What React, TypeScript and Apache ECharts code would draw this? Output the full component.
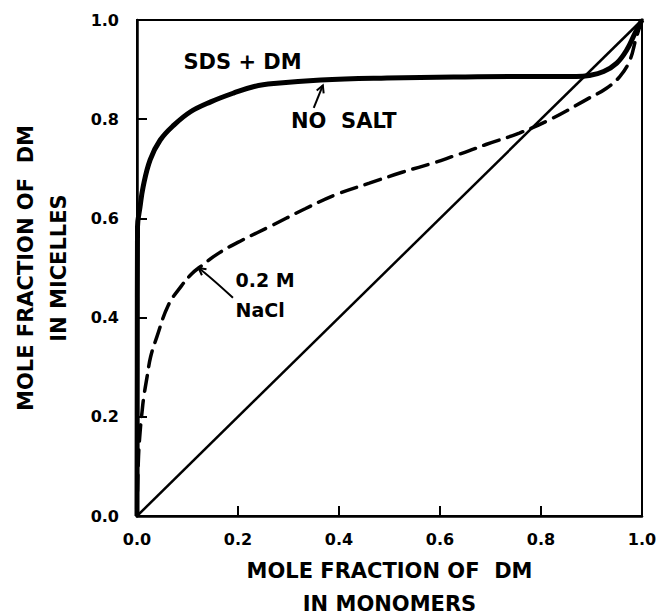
import React, { useEffect, useRef } from 'react';
import * as echarts from 'echarts';

// Mole fraction of DM in monomers (x) vs in micelles (y)
const noSalt: [number, number][] = [
  [0, 0], [0.0005, 0.3], [0.001, 0.583], [0.006, 0.623], [0.012, 0.663],
  [0.026, 0.718], [0.046, 0.758], [0.073, 0.788], [0.106, 0.815], [0.146, 0.835],
  [0.192, 0.853], [0.232, 0.866], [0.271, 0.872], [0.364, 0.879], [0.495, 0.883],
  [0.627, 0.885], [0.75, 0.886], [0.87, 0.886], [0.895, 0.888], [0.924, 0.896],
  [0.95, 0.913], [0.97, 0.94], [0.986, 0.973], [1.0, 1.0],
];

const naCl: [number, number][] = [
  [0, 0], [0.003, 0.12], [0.007, 0.18], [0.01, 0.21], [0.013, 0.237], [0.02, 0.281],
  [0.027, 0.321], [0.039, 0.36], [0.062, 0.425], [0.088, 0.464], [0.108, 0.488],
  [0.122, 0.5], [0.162, 0.53], [0.208, 0.556], [0.268, 0.586], [0.334, 0.62],
  [0.394, 0.648], [0.46, 0.671], [0.525, 0.693], [0.591, 0.713], [0.625, 0.725],
  [0.657, 0.736], [0.691, 0.749], [0.757, 0.772], [0.823, 0.802], [0.889, 0.839],
  [0.929, 0.862], [0.956, 0.886], [0.976, 0.919], [0.988, 0.962], [1.0, 1.0],
];

const diagonal: [number, number][] = [[0, 0], [1, 1]];

const tickLabels = ['0.0', '0.2', '0.4', '0.6', '0.8', '1.0'];

const FONT = 'DejaVu Sans';

export default function App() {
  const ref = useRef<HTMLDivElement>(null);

  useEffect(() => {
    const chart = echarts.init(ref.current!, null, { renderer: 'svg' });
    const axisCommon = {
      type: 'value',
      min: 0,
      max: 1,
      interval: 0.2,
      axisLine: { show: true, onZero: false, lineStyle: { color: '#000', width: 2.5 } },
      axisTick: { show: true, inside: true, length: 10, lineStyle: { color: '#000', width: 2 } },
      splitLine: { show: false },
      axisLabel: {
        color: '#000',
        fontFamily: FONT,
        fontWeight: 'bold',
        fontSize: 16,
        formatter: (v: number) => tickLabels[Math.round(v * 5)],
      },
      nameLocation: 'middle',
      nameTextStyle: { color: '#000', fontFamily: FONT, fontWeight: 'bold', fontSize: 21, lineHeight: 33 },
    };
    chart.setOption({
      animation: false,
      backgroundColor: '#fff',
      grid: {
        left: 137, top: 20, right: 20, bottom: 98,
        outerBoundsMode: 'none',
        containLabel: false,
        show: true, borderColor: '#000', borderWidth: 2,
      },
      xAxis: {
        ...axisCommon,
        axisLabel: { ...axisCommon.axisLabel, margin: 15 },
        name: 'MOLE FRACTION OF  DM\nIN MONOMERS',
        nameGap: 38,
      },
      yAxis: {
        ...axisCommon,
        axisLabel: { ...axisCommon.axisLabel, margin: 18 },
        name: 'MOLE FRACTION OF  DM\nIN MICELLES',
        nameRotate: 90,
        nameGap: 62,
      },
      series: [
        {
          type: 'line', data: diagonal, showSymbol: false, symbol: 'none',
          lineStyle: { color: '#000', width: 2.5 },
        },
        {
          type: 'line', data: naCl, showSymbol: false, symbol: 'none', smooth: 0.4,
          lineStyle: { color: '#000', width: 3.5, type: [16, 9], cap: 'round' },
        },
        {
          type: 'line', data: noSalt, showSymbol: false, symbol: 'none', smooth: 0.4,
          lineStyle: { color: '#000', width: 5 },
        },
      ],
    });

    const px = (p: [number, number]) => chart.convertToPixel({ gridIndex: 0 }, p) as number[];
    const head = (tip: number[], from: number[]) => {
      const dx = tip[0] - from[0];
      const dy = tip[1] - from[1];
      const L = Math.hypot(dx, dy) || 1;
      const ux = dx / L, uy = dy / L;
      const len = 8, a = (28 * Math.PI) / 180;
      const rot = (s: number) => [
        tip[0] - len * (ux * Math.cos(a) - s * uy * Math.sin(a)),
        tip[1] - len * (uy * Math.cos(a) + s * ux * Math.sin(a)),
      ];
      return [rot(1), tip, rot(-1)];
    };

    const t1 = px([0.35, 0.823]);
    const h1 = px([0.368, 0.868]);
    const t2 = px([0.19, 0.44]);
    const c2 = px([0.145, 0.482]);
    const h2 = px([0.122, 0.5]);

    const txt = (p: [number, number], text: string, size: number) => {
      const q = px(p);
      return {
        type: 'text', x: q[0], y: q[1],
        style: {
          text, fill: '#000', fontFamily: FONT, fontWeight: 'bold', fontSize: size,
          verticalAlign: 'middle', textVerticalAlign: 'middle',
        },
      };
    };

    chart.setOption({
      graphic: [
        txt([0.092, 0.915], 'SDS + DM', 21),
        txt([0.305, 0.796], 'NO  SALT', 21),
        txt([0.195, 0.476], '0.2 M', 19),
        txt([0.195, 0.415], 'NaCl', 19),
        {
          type: 'line',
          shape: { x1: t1[0], y1: t1[1], x2: h1[0], y2: h1[1] },
          style: { stroke: '#000', lineWidth: 2 },
        },
        {
          type: 'polyline',
          shape: { points: head(h1, t1) },
          style: { stroke: '#000', lineWidth: 2, fill: null },
        },
        {
          type: 'bezierCurve',
          shape: { x1: t2[0], y1: t2[1], x2: h2[0], y2: h2[1], cpx1: c2[0], cpy1: c2[1] },
          style: { stroke: '#000', lineWidth: 2, fill: null },
        },
        {
          type: 'polyline',
          shape: { points: head(h2, c2) },
          style: { stroke: '#000', lineWidth: 2, fill: null },
        },
      ],
    });

    return () => chart.dispose();
  }, []);

  return (
    <div
      ref={ref}
      style={{ position: 'absolute', left: 0, top: 0, width: 662, height: 614, background: '#fff' }}
    />
  );
}
